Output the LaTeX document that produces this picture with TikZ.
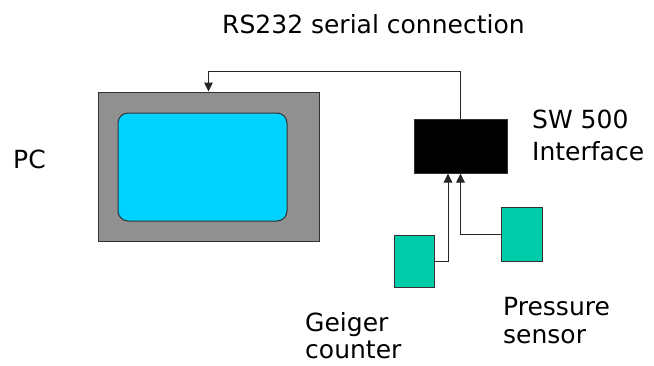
\documentclass[tikz,border=0pt]{standalone}
\usepackage{fontspec}
\setmainfont{DejaVu Sans}
\usetikzlibrary{arrows.meta}
\definecolor{casegray}{RGB}{144,144,144}
\definecolor{screencyan}{RGB}{0,210,255}
\definecolor{sensorgreen}{RGB}{0,204,170}
\definecolor{edgegray}{RGB}{50,50,50}
\tikzset{
  box/.style={draw=edgegray, line width=1bp, inner sep=0pt},
  wire/.style={draw=black!85, line width=1bp, -{Triangle[length=9bp,width=8.5bp]}},
  label/.style={inner sep=0pt, anchor=base west, font=\fontsize{25bp}{27bp}\selectfont},
}
\begin{document}
\begin{tikzpicture}[x=1bp, y=-1bp]
  \useasboundingbox (0,0) rectangle (654,365);

  % PC: monitor case and screen
  \node[box, fill=casegray, minimum width=221bp, minimum height=149bp] (pc) at (208.5,166.5) {};
  \node[box, fill=screencyan, rounded corners=10bp, minimum width=169bp, minimum height=108bp] (screen) at (202.5,167) {};

  % SW 500 interface box
  \node[box, fill=black, minimum width=93bp, minimum height=54bp] (sw) at (460.5,146) {};

  % sensors
  \node[box, fill=sensorgreen, minimum width=40bp, minimum height=52bp] (geiger) at (414,261) {};
  \node[box, fill=sensorgreen, minimum width=41bp, minimum height=54bp] (pressure) at (521.5,234) {};

  % serial link and sensor cables
  \draw[wire] (sw.north) -- ++(0,-47) -| (pc.north);
  \draw[wire] (geiger.east) -| ([xshift=-12.5bp]sw.south);
  \draw[wire] (pressure.west) -| (sw.south);

  % labels
  \node[label] (rs) at (222,33) {RS232 serial connection};
  \node[label] (pclbl) at (13,168) {PC};
  \node[label] (sw1) at (532,128) {SW 500};
  \node[label] (sw2) at (532,160) {Interface};
  \node[label] (g1) at (305,331) {Geiger};
  \node[label] (g2) at (305,358) {counter};
  \node[label] (p1) at (503,315) {Pressure};
  \node[label] (p2) at (503,343) {sensor};
\end{tikzpicture}
\end{document}
